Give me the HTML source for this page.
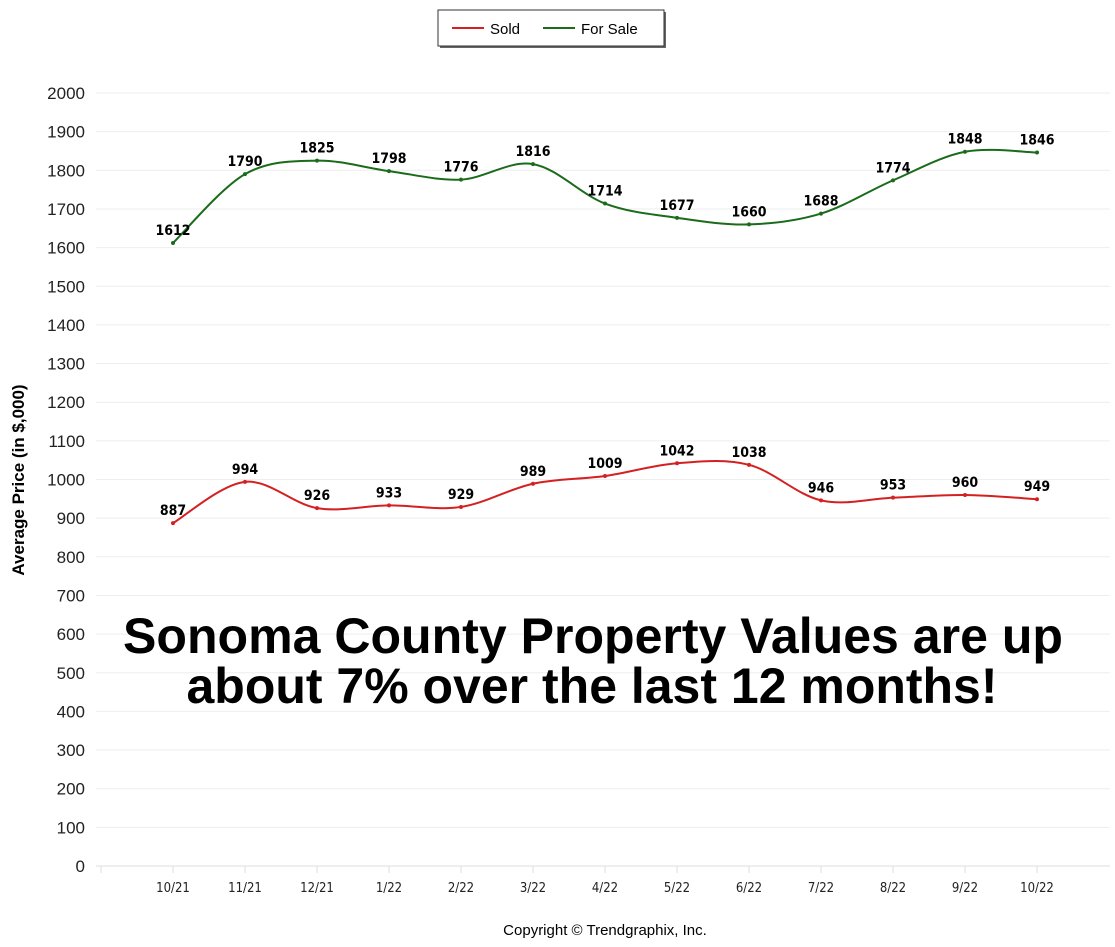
<!DOCTYPE html>
<html><head><meta charset="utf-8">
<style>
body{margin:0;background:#fff;font-family:"Liberation Sans",sans-serif;}
#wrap{position:relative;width:1115px;height:947px;overflow:hidden;}
</style></head>
<body>
<div id="wrap">
<svg id="chart" width="1115" height="947">
  <g id="grid"></g>
  <g id="yticks"></g>
  <g id="xticks"></g>
  <g id="series"></g>
  <text x="24" y="480" transform="rotate(-90 24 480)" text-anchor="middle" font-family="Liberation Sans, sans-serif" font-size="17" font-weight="bold" fill="#000">Average Price (in $,000)</text>
  <g>
    <rect x="440" y="12" width="226" height="36" fill="#666"/>
    <rect x="438" y="10" width="226" height="36" fill="#fff" stroke="#333" stroke-width="1"/>
    <line x1="452" y1="28" x2="484" y2="28" stroke="#d42020" stroke-width="2"/>
    <text x="490" y="34" font-size="15" fill="#000">Sold</text>
    <line x1="543" y1="28" x2="575" y2="28" stroke="#1a6b1a" stroke-width="2"/>
    <text x="581" y="34" font-size="15" fill="#000">For Sale</text>
  </g>
  <text x="593" y="653" text-anchor="middle" font-size="50" font-weight="bold" textLength="940" lengthAdjust="spacingAndGlyphs" fill="#000">Sonoma County Property Values are up</text>
  <text x="592" y="703" text-anchor="middle" font-size="50" font-weight="bold" textLength="811" lengthAdjust="spacingAndGlyphs" fill="#000">about 7% over the last 12 months!</text>
  <text x="605" y="935" text-anchor="middle" font-size="15" fill="#000">Copyright © Trendgraphix, Inc.</text>
</svg>
</div>
<script>
const categories=["10/21","11/21","12/21","1/22","2/22","3/22","4/22","5/22","6/22","7/22","8/22","9/22","10/22"];
const soldValues=[887,994,926,933,929,989,1009,1042,1038,946,953,960,949];
const forSaleValues=[1612,1790,1825,1798,1776,1816,1714,1677,1660,1688,1774,1848,1846];
const yTicks=[0,100,200,300,400,500,600,700,800,900,1000,1100,1200,1300,1400,1500,1600,1700,1800,1900,2000];

const NS="http://www.w3.org/2000/svg";
function x(i){return 173+72*i;}
function y(v){return 866-(v/2000)*773;}
function mk(tag,attrs,parent){const e=document.createElementNS(NS,tag);for(const k in attrs)e.setAttribute(k,attrs[k]);parent.appendChild(e);return e;}
const grid=document.getElementById('grid'),yt=document.getElementById('yticks'),xt=document.getElementById('xticks'),ser=document.getElementById('series');
yTicks.forEach(t=>{
  const l=mk('line',{x1:96,x2:1110,y1:y(t),y2:y(t),stroke:t===0?'#ddd':'#eee','stroke-width':1},grid);
  
  
  const tx=mk('text',{x:85,y:y(t)+6,'text-anchor':'end','font-size':'17','fill':'#222'},yt);
  tx.textContent=t;
  
  
});
const t0=mk('line',{x1:101,x2:101,y1:866,y2:873,stroke:'#ddd'},xt);


categories.forEach((c,i)=>{
  const tk=mk('line',{x1:x(i),x2:x(i),y1:866,y2:873,stroke:'#ddd'},xt);
  
  
  const tx=mk('text',{x:x(i),y:892,'text-anchor':'middle','font-family':'DejaVu Sans Condensed, Liberation Sans, sans-serif','font-size':'13','fill':'#222'},xt);
  tx.textContent=c;
  
  
});
function smooth(pts){
  let d='M'+pts[0][0]+','+pts[0][1];
  for(let i=0;i<pts.length-1;i++){
    const p0=pts[i-1]||pts[i],p1=pts[i],p2=pts[i+1],p3=pts[i+2]||p2;
    const c1=[p1[0]+(p2[0]-p0[0])/6,p1[1]+(p2[1]-p0[1])/6];
    const c2=[p2[0]-(p3[0]-p1[0])/6,p2[1]-(p3[1]-p1[1])/6];
    d+=' C'+c1+' '+c2+' '+p2;
  }
  return d;
}
function drawSeries(vals,color,name){
  const pts=vals.map((v,i)=>[x(i),y(v)]);
  const p=mk('path',{d:smooth(pts),fill:'none',stroke:color,'stroke-width':2},ser);
  
  
  vals.forEach((v,i)=>{
    const c=mk('circle',{cx:x(i),cy:y(v),r:2,fill:color},ser);
    
    
    const t=mk('text',{x:x(i),y:y(v)-8,'text-anchor':'middle','font-family':'DejaVu Sans Condensed, Liberation Sans, sans-serif','font-size':'14','font-weight':'bold',fill:'#000'},ser);
    t.textContent=v;
    
    
  });
}
drawSeries(forSaleValues,'#1a6b1a','for-sale');
drawSeries(soldValues,'#d42020','sold');
</script>
</body></html>
